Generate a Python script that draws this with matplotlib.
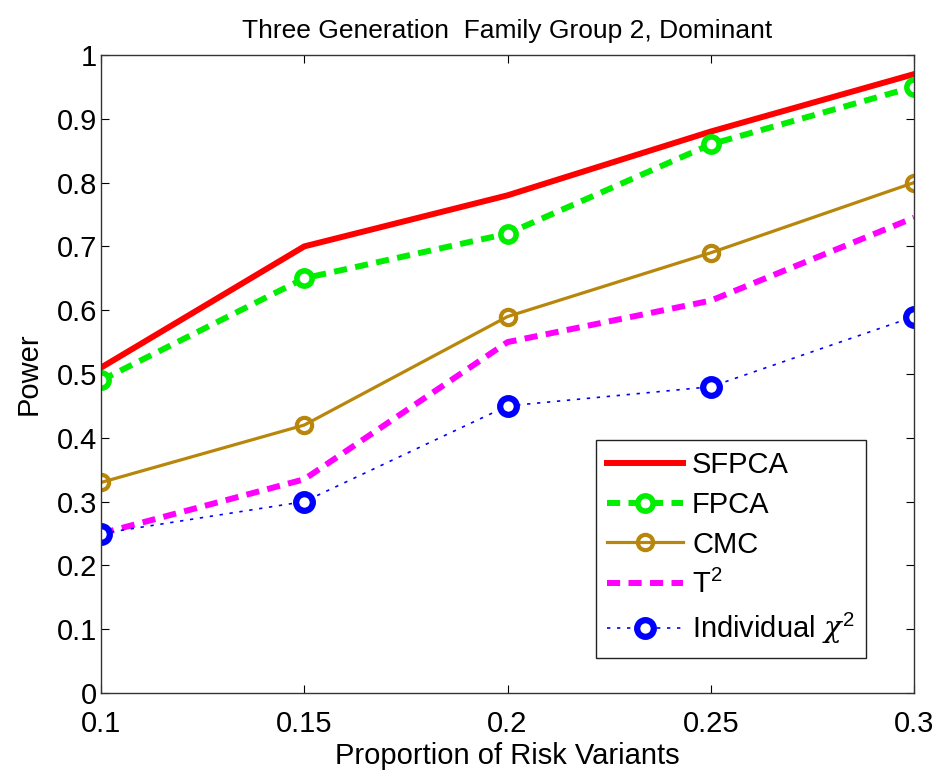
import matplotlib
matplotlib.use("Agg")
import matplotlib.pyplot as plt

plt.rcParams['font.family'] = ['Liberation Sans', 'DejaVu Sans']
plt.rcParams['mathtext.fontset'] = 'custom'
plt.rcParams['mathtext.rm'] = 'Liberation Sans'
plt.rcParams['mathtext.it'] = 'DejaVu Serif:italic'

proportion = [0.1, 0.15, 0.2, 0.25, 0.3]
sfpca = [0.51, 0.70, 0.78, 0.88, 0.97]
fpca = [0.49, 0.65, 0.72, 0.86, 0.95]
cmc = [0.33, 0.42, 0.59, 0.69, 0.80]
t2 = [0.25, 0.335, 0.55, 0.615, 0.745]
indiv = [0.25, 0.30, 0.45, 0.48, 0.59]

fig = plt.figure(figsize=(9.39, 7.72), dpi=100)
ax = fig.add_axes([0.1076, 0.1023, 0.8658, 0.8265])

ax.plot(proportion, sfpca, color='#ff0000', lw=4.3, label='SFPCA')
ax.plot(proportion, fpca, color='#00ee00', lw=4.3, ls=(0, (2.2, 1.4)),
        marker='o', ms=11, mfc='white', mec='#00ee00', mew=4, label='FPCA')
ax.plot(proportion, cmc, color='#b8860b', lw=2.3, marker='o', ms=11,
        mfc='none', mec='#b8860b', mew=3, label='CMC')
ax.plot(proportion, t2, color='#ff00ff', lw=4.3, ls=(0, (2.2, 1.4)), label='T$^2$')
ax.plot(proportion, indiv, color='#0000ff', lw=1.2, ls=(0, (2, 4)),
        marker='o', ms=12, mfc='white', mec='#0000ff', mew=4.5,
        label=r'Individual $\chi^2$')

ax.set_xlim(0.1, 0.3)
ax.set_ylim(0, 1)
ax.set_xticks(proportion)
ax.set_xticklabels(['0.1', '0.15', '0.2', '0.25', '0.3'])
ax.set_yticks([i / 10 for i in range(11)])
ax.set_yticklabels(['0', '0.1', '0.2', '0.3', '0.4', '0.5', '0.6', '0.7', '0.8', '0.9', '1'])
ax.tick_params(labelsize=21, direction='in', length=6, top=True, right=True, pad=3)
ax.tick_params(axis='x', pad=12)
for s in ax.spines.values():
    s.set_linewidth(1.0)
    s.set_color('#333333')

ax.set_xlabel('Proportion of Risk Variants', fontsize=21, labelpad=3)
ax.set_ylabel('Power', fontsize=21, labelpad=10)
ax.set_title('Three Generation  Family Group 2, Dominant', fontsize=19, pad=12)

leg = ax.legend(loc='lower right', bbox_to_anchor=(0.941, 0.055), borderaxespad=0,
                fontsize=21, fancybox=False, edgecolor='#222222', framealpha=1,
                handlelength=2.6, borderpad=0.4, labelspacing=0.4, handletextpad=0.3)
leg.get_frame().set_linewidth(1.0)

fig.savefig('out.png', dpi=100)
